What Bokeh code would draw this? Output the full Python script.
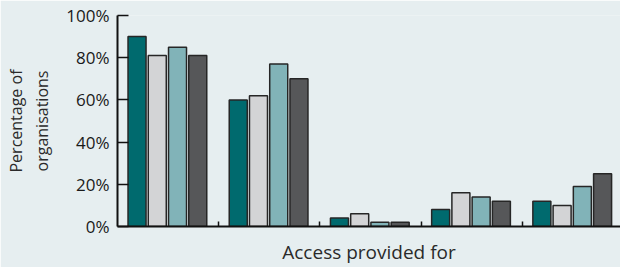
from bokeh.plotting import figure
from bokeh.models import ColumnDataSource, Range1d, FixedTicker, PrintfTickFormatter
from bokeh.transform import dodge
from bokeh.embed import file_html
from bokeh.resources import INLINE

# ---- data ----
groups = ["Group 1", "Group 2", "Group 3", "Group 4", "Group 5"]   # unlabeled in the reference
series_names = ["Series 1", "Series 2", "Series 3", "Series 4"]
series_colors = ["#006A6E", "#D3D4D6", "#81B3B8", "#565759"]
series_1 = [90, 60, 4, 8, 12]
series_2 = [81, 62, 6, 16, 10]
series_3 = [85, 77, 2, 14, 19]
series_4 = [81, 70, 2, 12, 25]
y_ticks = [0, 20, 40, 60, 80, 100]
x_label = "Access provided for"
y_label = "Percentage of\norganisations"

BG = "#E6EEF0"
FONT = "Open Sans"

p = figure(width=620, height=267, output_backend="svg", toolbar_location=None,
           x_range=Range1d(0, 4.97), y_range=Range1d(0, 100),
           min_border_left=117, min_border_right=0, min_border_top=15,
           min_border_bottom=39)
p.background_fill_color = BG
p.border_fill_color = BG
p.outline_line_color = None
p.xgrid.visible = False
p.ygrid.visible = False

pos = [i + 0.5 for i in range(len(groups))]
src = ColumnDataSource(dict(pos=pos, s1=series_1, s2=series_2, s3=series_3, s4=series_4))
offsets = [-0.307, -0.107, 0.093, 0.293]
for key, off, col in zip(["s1", "s2", "s3", "s4"], offsets, series_colors):
    p.vbar(x=dodge("pos", off), top=key, width=0.178, bottom=0, source=src,
           fill_color=col, line_color="#262626", line_width=1.5)

# y axis
ya = p.yaxis[0]
ya.ticker = FixedTicker(ticks=y_ticks)
ya.formatter = PrintfTickFormatter(format="%d%%")
ya.bounds = (0, 100)
ya.axis_line_color = "#111111"
ya.axis_line_width = 2
ya.major_tick_line_color = "#111111"
ya.major_tick_line_width = 1.5
ya.major_tick_in = 11
ya.major_tick_out = 0
ya.minor_tick_line_color = None
ya.major_label_standoff = 8
ya.major_label_text_font = FONT
ya.major_label_text_font_size = "17px"
ya.major_label_text_color = "#1a1a1a"
ya.axis_label = y_label
ya.axis_label_text_font = FONT
ya.axis_label_text_font_size = "16px"
ya.axis_label_text_font_style = "normal"
ya.axis_label_text_color = "#2a2a2a"
ya.axis_label_standoff = 10

# x axis
xt = [1, 2, 3, 4]
xa = p.xaxis[0]
xa.ticker = FixedTicker(ticks=xt)
xa.major_label_overrides = {t: "" for t in xt}
xa.axis_line_color = "#111111"
xa.axis_line_width = 2
xa.major_tick_line_color = "#111111"
xa.major_tick_line_width = 1.5
xa.major_tick_in = 5
xa.major_tick_out = 0
xa.minor_tick_line_color = None
xa.major_label_standoff = 0
xa.axis_label = x_label
xa.axis_label_text_font = FONT
xa.axis_label_text_font_size = "19px"
xa.axis_label_text_font_style = "normal"
xa.axis_label_text_color = "#2a2a2a"
xa.axis_label_standoff = 12

open("out.html", "w").write(file_html(p, INLINE))
